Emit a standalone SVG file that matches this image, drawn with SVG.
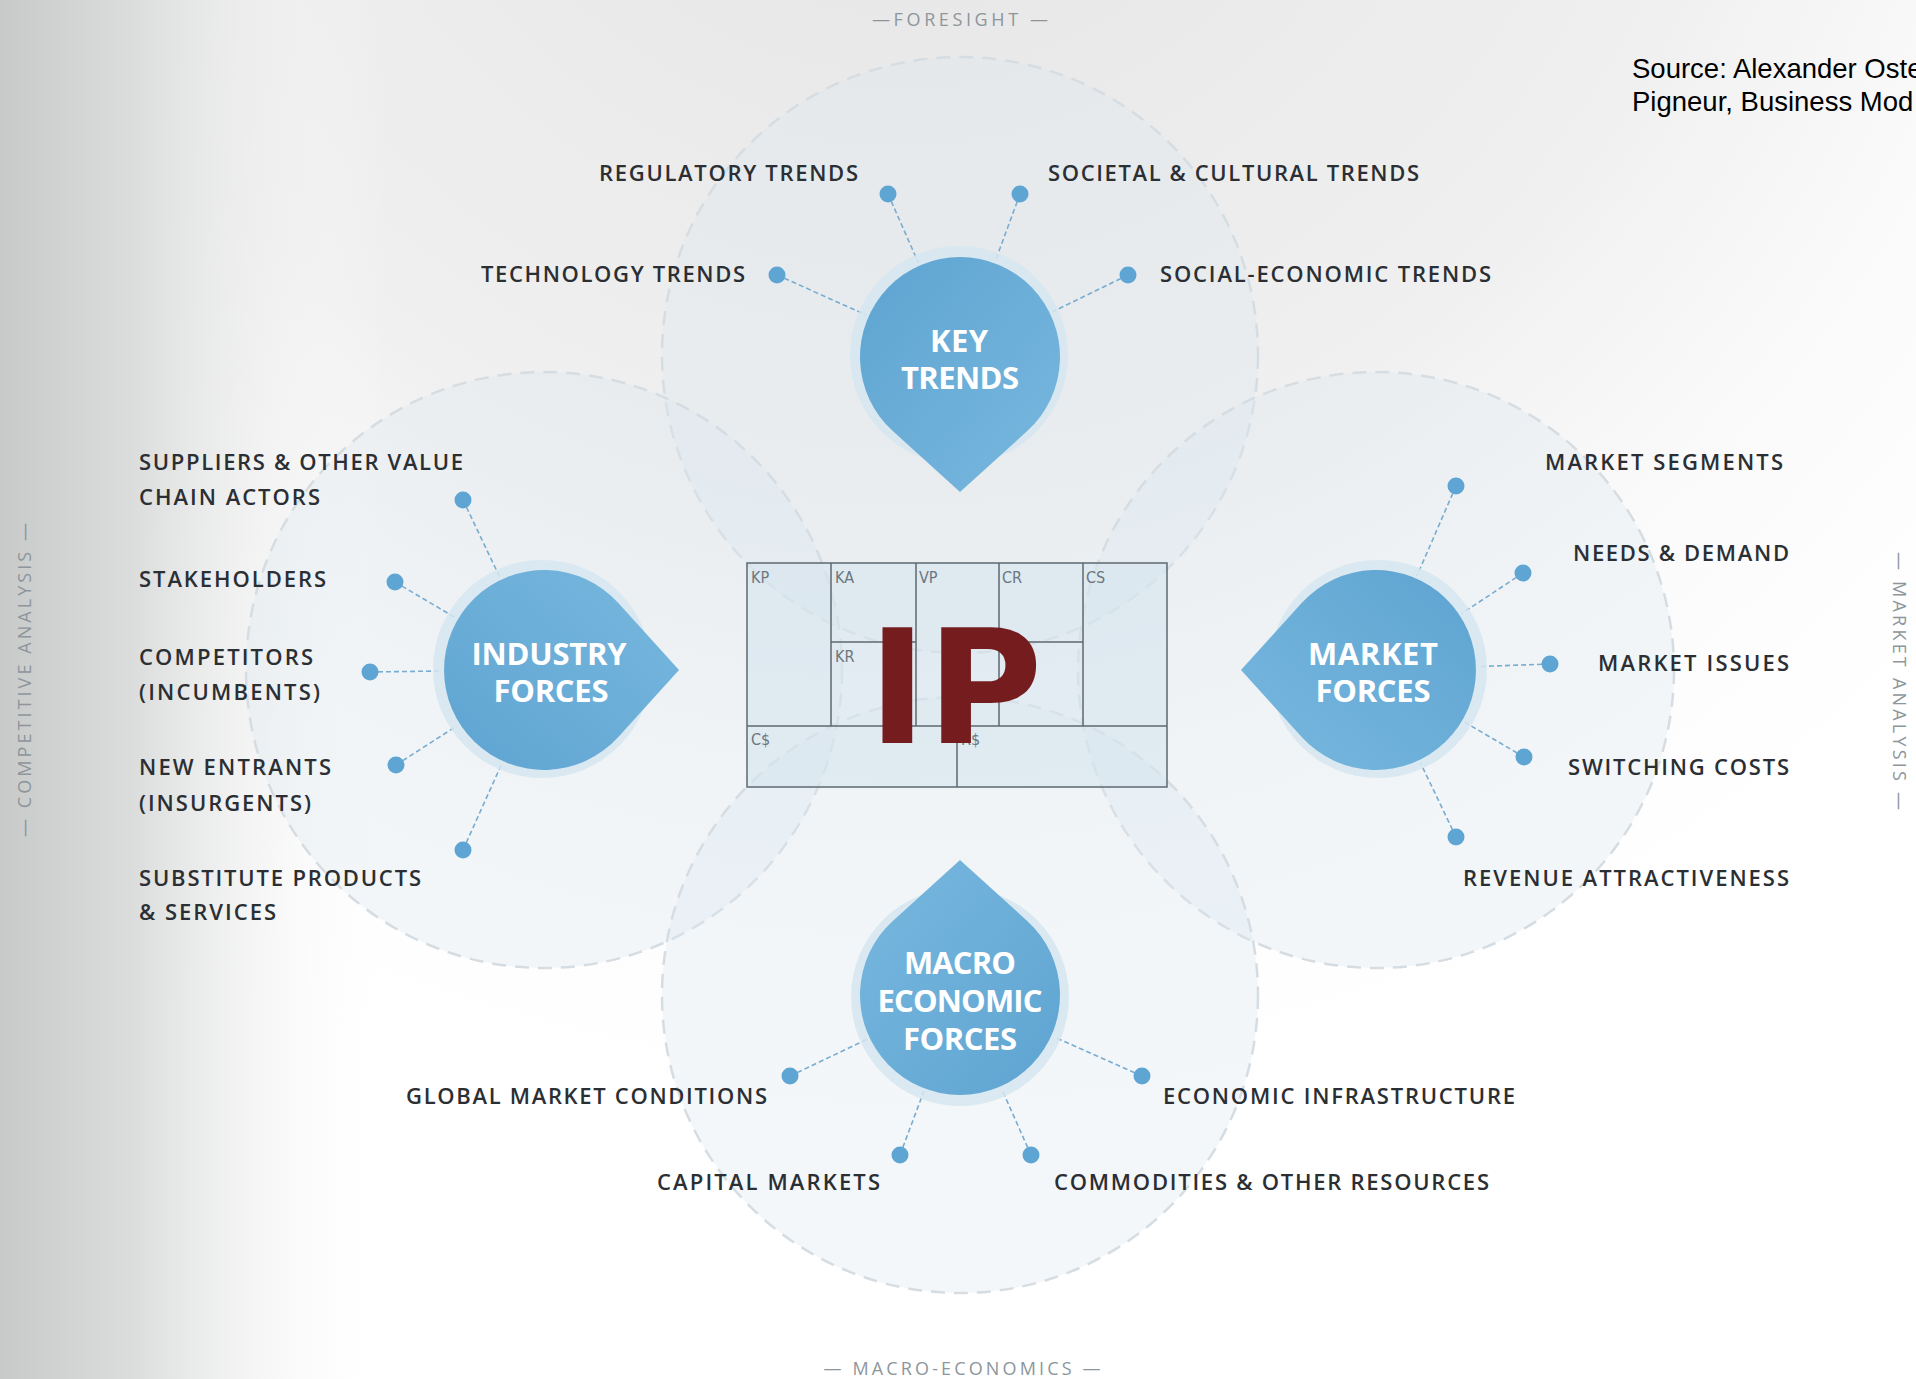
<svg xmlns="http://www.w3.org/2000/svg" width="1916" height="1379" viewBox="0 0 1916 1379">
  <defs>
    <linearGradient id="bgLeft" gradientUnits="userSpaceOnUse" x1="0" y1="0" x2="390" y2="0">
      <stop offset="0" stop-color="#c8caca"/>
      <stop offset="0.35" stop-color="#dcdddd"/>
      <stop offset="1" stop-color="#ffffff" stop-opacity="0"/>
    </linearGradient>
    <radialGradient id="bgTop" gradientUnits="userSpaceOnUse" cx="900" cy="-350" r="1550">
      <stop offset="0" stop-color="#e3e3e3"/>
      <stop offset="0.55" stop-color="#f0f0f0"/>
      <stop offset="1" stop-color="#ffffff" stop-opacity="0"/>
    </radialGradient>
    <linearGradient id="dropFill" x1="0" y1="0" x2="1" y2="1">
      <stop offset="0" stop-color="#78b8df"/>
      <stop offset="1" stop-color="#5ea4d1"/>
    </linearGradient>
    <!-- teardrop pointing up, centred on its round part -->
    <path id="drop" d="M0,-135 L67.2,-74.1 A100,100 0 1 1 -67.2,-74.1 Z"/>
    <style>
      .zone { fill: #dce8f0; fill-opacity: 0.34; stroke: #d6dde2; stroke-width: 2.5; stroke-dasharray: 14 9; }
      .halo { fill: #d6e6f0; opacity: 0.85; }
      .dropShape { fill: url(#dropFill); }
      .title { font-family: "Open Sans", "Liberation Sans", sans-serif; font-weight: 700; font-size: 31px; fill: #ffffff; text-anchor: middle; }
      .lbl { font-family: "Open Sans", "Liberation Sans", sans-serif; font-weight: 600; font-size: 22px; fill: #2b2f33; }
      .end { text-anchor: end; }
      .side { font-family: "Open Sans", "Liberation Sans", sans-serif; font-size: 18px; fill: #8d969b; text-anchor: middle; }
      .conn { stroke: #78acd0; stroke-width: 1.6; stroke-dasharray: 5 3; fill: none; }
      .dot { fill: #5fa5d3; }
      .cell { fill: #d5e4ee; fill-opacity: 0.6; stroke: none; }
      .grid { stroke: #5d6870; stroke-width: 1.5; fill: none; }
      .cellTxt { font-family: "DejaVu Sans Condensed", "DejaVu Sans", sans-serif; font-size: 16px; fill: #6b7780; }
      .src { font-family: "Liberation Sans", Arial, sans-serif; font-size: 27.5px; fill: #000000; }
    </style>
  </defs>

  <!-- background -->
  <rect x="0" y="0" width="1916" height="1379" fill="#ffffff"/>
  <rect x="0" y="0" width="1916" height="1379" fill="url(#bgTop)"/>
  <rect x="0" y="0" width="1916" height="1379" fill="url(#bgLeft)"/>

  <!-- four overlapping analysis zones -->
  <g id="zones">
    <circle class="zone" cx="960" cy="355" r="298"/>
    <circle class="zone" cx="544" cy="670" r="298"/>
    <circle class="zone" cx="1376" cy="670" r="298"/>
    <circle class="zone" cx="960" cy="995" r="298"/>
  </g>

  <!-- axis captions -->
  <g id="captions">
    <text class="side" x="960" y="26" textLength="176">—FORESIGHT —</text>
    <text class="side" x="962" y="1375" textLength="277">— MACRO-ECONOMICS —</text>
    <text class="side" transform="translate(31,680) rotate(-90)" textLength="314">— COMPETITIVE ANALYSIS —</text>
    <text class="side" transform="translate(1893,681) rotate(90)" textLength="258">— MARKET ANALYSIS —</text>
  </g>

  <!-- source note -->
  <g id="source">
    <text class="src" x="1632" y="78">Source: Alexander Oste</text>
    <text class="src" x="1632" y="111">Pigneur, Business Mod</text>
  </g>

  <!-- business model canvas in the middle -->
  <g id="canvas">
    <rect class="cell" x="747" y="563" width="420" height="224"/>
    <rect class="grid" x="747" y="563" width="420" height="224"/>
    <path class="grid" d="M831,563 V726 M916,563 V726 M999,563 V726 M1083,563 V726 M831,642 H916 M999,642 H1083 M747,726 H1167 M957,726 V787"/>
    <text class="cellTxt" x="751" y="583">KP</text>
    <text class="cellTxt" x="835" y="583">KA</text>
    <text class="cellTxt" x="919" y="583">VP</text>
    <text class="cellTxt" x="1002" y="583">CR</text>
    <text class="cellTxt" x="1086" y="583">CS</text>
    <text class="cellTxt" x="835" y="662">KR</text>
    <text class="cellTxt" x="751" y="745">C$</text>
    <text class="cellTxt" x="961" y="745">R$</text>
    <text x="868" y="743" font-family="DejaVu Sans, sans-serif" font-weight="bold" font-size="158" fill="#741c1e">IP</text>
  </g>

  <!-- dashed connectors from each factor to its force -->
  <g id="connectors">
    <line class="conn" x1="888" y1="194" x2="918.4" y2="262.8"/>
    <line class="conn" x1="1020" y1="194" x2="995.6" y2="260.3"/>
    <line class="conn" x1="777" y1="275" x2="866" y2="314.9"/>
    <line class="conn" x1="1128" y1="275" x2="1052.6" y2="311.8"/>

    <line class="conn" x1="463" y1="500" x2="499.7" y2="577"/>
    <line class="conn" x1="395" y1="582" x2="455.3" y2="617.6"/>
    <line class="conn" x1="370" y1="672" x2="441" y2="671"/>
    <line class="conn" x1="396" y1="765" x2="457.3" y2="725.6"/>
    <line class="conn" x1="463" y1="850" x2="501.7" y2="763.9"/>

    <line class="conn" x1="1456" y1="486" x2="1417.1" y2="575.5"/>
    <line class="conn" x1="1523" y1="573" x2="1462" y2="613.3"/>
    <line class="conn" x1="1550" y1="664" x2="1478.9" y2="666.5"/>
    <line class="conn" x1="1524" y1="757" x2="1464.8" y2="722.2"/>
    <line class="conn" x1="1456" y1="837" x2="1420.5" y2="762.9"/>

    <line class="conn" x1="790" y1="1076" x2="867" y2="1039.3"/>
    <line class="conn" x1="1142" y1="1076" x2="1054.1" y2="1036.9"/>
    <line class="conn" x1="900" y1="1155" x2="923.8" y2="1091.4"/>
    <line class="conn" x1="1031" y1="1155" x2="1001.8" y2="1089.2"/>
  </g>

  <!-- KEY TRENDS -->
  <g id="key-trends">
    <circle class="halo" cx="959" cy="355" r="109"/>
    <use href="#drop" class="dropShape" transform="translate(960,357) rotate(180)"/>
    <text class="title" x="959" y="352" textLength="58">KEY</text>
    <text class="title" x="960" y="389" textLength="118">TRENDS</text>
    <circle class="dot" cx="888" cy="194" r="8.5"/>
    <circle class="dot" cx="1020" cy="194" r="8.5"/>
    <circle class="dot" cx="777" cy="275" r="8.5"/>
    <circle class="dot" cx="1128" cy="275" r="8.5"/>
    <text class="lbl end" x="858" y="180.5" textLength="259">REGULATORY TRENDS</text>
    <text class="lbl" x="1048" y="180.5" textLength="371">SOCIETAL &amp; CULTURAL TRENDS</text>
    <text class="lbl end" x="745" y="282" textLength="264">TECHNOLOGY TRENDS</text>
    <text class="lbl" x="1160" y="282" textLength="331">SOCIAL-ECONOMIC TRENDS</text>
  </g>

  <!-- INDUSTRY FORCES -->
  <g id="industry-forces">
    <circle class="halo" cx="542" cy="669" r="109"/>
    <use href="#drop" class="dropShape" transform="translate(544,670) rotate(90)"/>
    <text class="title" x="549" y="665" textLength="155">INDUSTRY</text>
    <text class="title" x="551" y="702" textLength="115">FORCES</text>
    <circle class="dot" cx="463" cy="500" r="8.5"/>
    <circle class="dot" cx="395" cy="582" r="8.5"/>
    <circle class="dot" cx="370" cy="672" r="8.5"/>
    <circle class="dot" cx="396" cy="765" r="8.5"/>
    <circle class="dot" cx="463" cy="850" r="8.5"/>
    <text class="lbl" x="139" y="470" textLength="324">SUPPLIERS &amp; OTHER VALUE</text>
    <text class="lbl" x="139" y="505" textLength="181">CHAIN ACTORS</text>
    <text class="lbl" x="139" y="587" textLength="187">STAKEHOLDERS</text>
    <text class="lbl" x="139" y="665" textLength="174">COMPETITORS</text>
    <text class="lbl" x="139" y="700" textLength="181">(INCUMBENTS)</text>
    <text class="lbl" x="139" y="775" textLength="192">NEW ENTRANTS</text>
    <text class="lbl" x="139" y="811" textLength="172">(INSURGENTS)</text>
    <text class="lbl" x="139" y="886" textLength="282">SUBSTITUTE PRODUCTS</text>
    <text class="lbl" x="139" y="920" textLength="137">&amp; SERVICES</text>
  </g>

  <!-- MARKET FORCES -->
  <g id="market-forces">
    <circle class="halo" cx="1378" cy="669" r="109"/>
    <use href="#drop" class="dropShape" transform="translate(1376,670) rotate(-90)"/>
    <text class="title" x="1373" y="665" textLength="130">MARKET</text>
    <text class="title" x="1373" y="702" textLength="115">FORCES</text>
    <circle class="dot" cx="1456" cy="486" r="8.5"/>
    <circle class="dot" cx="1523" cy="573" r="8.5"/>
    <circle class="dot" cx="1550" cy="664" r="8.5"/>
    <circle class="dot" cx="1524" cy="757" r="8.5"/>
    <circle class="dot" cx="1456" cy="837" r="8.5"/>
    <text class="lbl end" x="1783" y="470" textLength="238">MARKET SEGMENTS</text>
    <text class="lbl end" x="1789" y="561" textLength="216">NEEDS &amp; DEMAND</text>
    <text class="lbl end" x="1789" y="671" textLength="191">MARKET ISSUES</text>
    <text class="lbl end" x="1789" y="775" textLength="221">SWITCHING COSTS</text>
    <text class="lbl end" x="1789" y="886" textLength="326">REVENUE ATTRACTIVENESS</text>
  </g>

  <!-- MACRO ECONOMIC FORCES -->
  <g id="macro-economic-forces">
    <circle class="halo" cx="960" cy="997" r="109"/>
    <use href="#drop" class="dropShape" transform="translate(960,995)"/>
    <text class="title" x="960" y="974" textLength="112">MACRO</text>
    <text class="title" x="960" y="1012" textLength="165">ECONOMIC</text>
    <text class="title" x="960" y="1050" textLength="114">FORCES</text>
    <circle class="dot" cx="790" cy="1076" r="8.5"/>
    <circle class="dot" cx="1142" cy="1076" r="8.5"/>
    <circle class="dot" cx="900" cy="1155" r="8.5"/>
    <circle class="dot" cx="1031" cy="1155" r="8.5"/>
    <text class="lbl end" x="767" y="1104" textLength="361">GLOBAL MARKET CONDITIONS</text>
    <text class="lbl" x="1163" y="1104" textLength="352">ECONOMIC INFRASTRUCTURE</text>
    <text class="lbl end" x="880" y="1190" textLength="223">CAPITAL MARKETS</text>
    <text class="lbl" x="1054" y="1190" textLength="435">COMMODITIES &amp; OTHER RESOURCES</text>
  </g>
</svg>
